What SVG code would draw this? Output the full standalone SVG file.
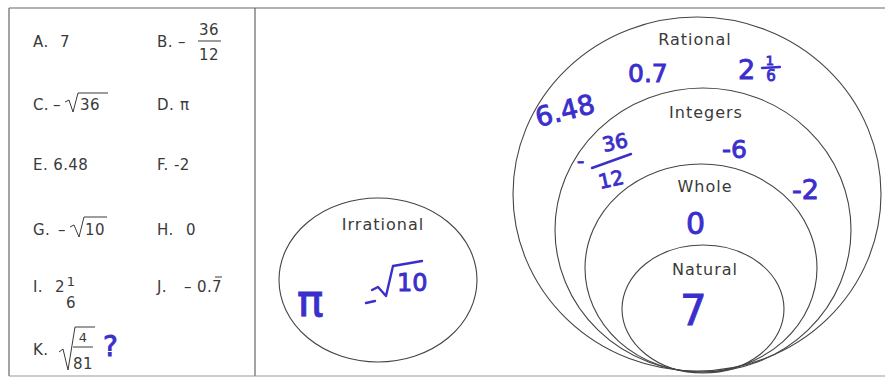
<svg xmlns="http://www.w3.org/2000/svg" width="885" height="378" viewBox="0 0 885 378">
<style>
.pr{font-family:"DejaVu Sans","Verdana",sans-serif;font-size:15px;fill:#3a3a3a;letter-spacing:0.4px}
.sm{font-family:"DejaVu Sans",sans-serif;font-size:13px;fill:#3a3a3a}
.lab{font-family:"DejaVu Sans",sans-serif;font-size:16px;fill:#3a3a3a;letter-spacing:1px;text-anchor:middle}
.ln{stroke:#3a3a3a;stroke-width:1;fill:none}
.el{stroke:#444;stroke-width:1.1;fill:none}
.hw{font-family:"DejaVu Sans",sans-serif;font-weight:normal;fill:#3b2fcc;stroke:#3b2fcc;stroke-width:0.9}
.hs{stroke:#3b2fcc;stroke-width:2.4;fill:none;stroke-linecap:round;stroke-linejoin:round}
.bd{stroke:#666;stroke-width:1.2;fill:none}
</style>
<rect width="885" height="378" fill="#ffffff"/>
<g id="frame">
<line class="bd" x1="9" y1="8" x2="885" y2="8"/>
<line class="bd" x1="9" y1="8" x2="9" y2="376"/>
<line class="bd" x1="255" y1="8" x2="255" y2="376"/>
<line x1="9" y1="376" x2="885" y2="376" stroke="#999" stroke-width="1"/>
</g>
<g id="list">
<text class="pr" x="33" y="47">A.</text>
<text class="pr" x="60" y="47">7</text>
<text class="pr" x="157" y="47">B.</text>
<text class="pr" x="178" y="47">–</text>
<text class="pr" x="209" y="35" text-anchor="middle">36</text>
<line class="ln" x1="198" y1="41" x2="221" y2="41"/>
<text class="pr" x="209" y="60" text-anchor="middle">12</text>
<text class="pr" x="33" y="110">C.</text>
<text class="pr" x="53" y="110">–</text>
<path class="ln" d="M65 102 L69 100 L73 112 L78 93 L108 93"/>
<text class="pr" x="80" y="110">36</text>
<text class="pr" x="157" y="110">D.</text>
<text class="pr" x="180" y="110">π</text>
<text class="pr" x="33" y="170">E. 6.48</text>
<text class="pr" x="157" y="170">F. -2</text>
<text class="pr" x="33" y="235">G.</text>
<text class="pr" x="58" y="235">–</text>
<path class="ln" d="M70 227 L74 225 L79 237 L84 217 L107 217"/>
<text class="pr" x="85" y="235">10</text>
<text class="pr" x="157" y="235">H.</text>
<text class="pr" x="186" y="235">0</text>
<text class="pr" x="33" y="292">I.</text>
<text class="pr" x="55" y="292">2</text>
<text class="sm" x="71" y="286" text-anchor="middle">1</text>
<text class="pr" x="71" y="308" text-anchor="middle">6</text>
<text class="pr" x="157" y="292">J.</text>
<text class="pr" x="184" y="292">–</text>
<text class="pr" x="197" y="292">0.7</text>
<line class="ln" x1="215" y1="277" x2="222" y2="277"/>
<text class="pr" x="33" y="355">K.</text>
<path class="ln" d="M59 352 L63 349 L68 370 L75 327 L95 327"/>
<text class="sm" x="83" y="342" text-anchor="middle">4</text>
<line class="ln" x1="73" y1="347" x2="93" y2="347"/>
<text class="pr" x="83" y="369" text-anchor="middle">81</text>
<text class="hw" x="103" y="356" font-size="28">?</text>
</g>
<g id="rational">
<ellipse class="el" cx="697" cy="194" rx="184" ry="177"/>
<text class="lab" x="695" y="45">Rational</text>
</g>
<g id="integers">
<ellipse class="el" cx="703" cy="230" rx="148" ry="142"/>
<text class="lab" x="706" y="118">Integers</text>
</g>
<g id="whole">
<ellipse class="el" cx="701" cy="268" rx="116" ry="104"/>
<text class="lab" x="705" y="192">Whole</text>
</g>
<g id="natural">
<ellipse class="el" cx="703" cy="309" rx="81" ry="64"/>
<text class="lab" x="705" y="275">Natural</text>
</g>
<g id="irrational">
<ellipse class="el" cx="378" cy="280" rx="99" ry="82"/>
<text class="lab" x="383" y="230">Irrational</text>
</g>
<g id="handwriting">
<text class="hw" x="628" y="82" font-size="25">0.7</text>
<text class="hw" x="738" y="79" font-size="27">2</text>
<text class="hw" x="770" y="65" font-size="13" text-anchor="middle">1</text>
<line class="hs" x1="762" y1="68" x2="780" y2="67" stroke-width="1.6"/>
<text class="hw" x="771" y="81" font-size="15" text-anchor="middle">6</text>
<text class="hw" x="538" y="127" font-size="27" transform="rotate(-14 538 127)">6.48</text>
<text class="hw" x="577" y="168" font-size="20">-</text>
<text class="hw" x="604" y="152" font-size="20" transform="rotate(-12 604 152)">36</text>
<line class="hs" x1="592" y1="168" x2="631" y2="154"/>
<text class="hw" x="600" y="189" font-size="20" transform="rotate(-12 600 189)">12</text>
<text class="hw" x="722" y="158" font-size="25">-6</text>
<text class="hw" x="792" y="199" font-size="27">-2</text>
<text class="hw" x="686" y="234" font-size="30">0</text>
<text class="hw" x="680" y="325" font-size="42">7</text>
<text class="hw" x="297" y="316" font-size="44">π</text>
<line class="hs" x1="366" y1="303" x2="375" y2="301"/>
<path class="hs" d="M372 290 L378 287 L386 296 L393 266 L422 261"/>
<text class="hw" x="397" y="291" font-size="24">10</text>
</g>
<g id="connectors"/>
</svg>
